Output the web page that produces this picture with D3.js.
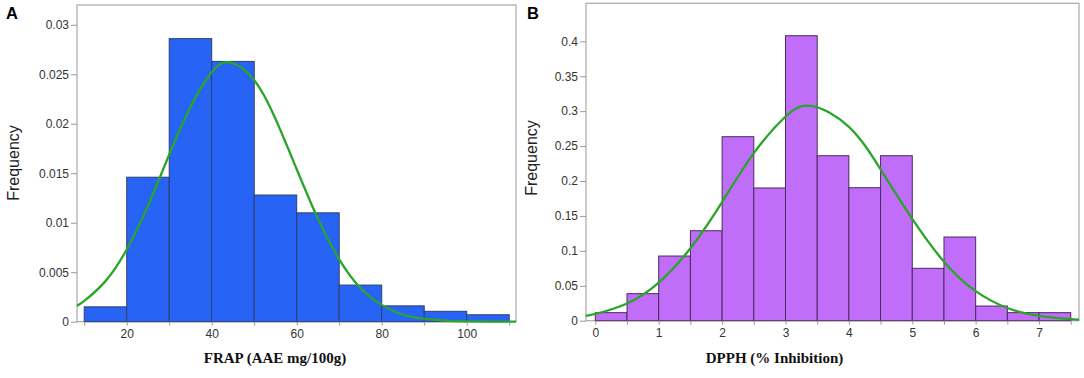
<!DOCTYPE html>
<html>
<head>
<meta charset="utf-8">
<script src="https://cdn.jsdelivr.net/npm/d3@7"></script>
<style>
  body { margin: 0; background: #fff; }
  .tick text { font-family: "Liberation Sans", Arial, sans-serif; font-size: 12px; fill: #333; }
  .tick line { stroke: #999; }
</style>
</head>
<body>
<div id="chart"></div>
<script>
// Panel A: FRAP histogram (bin edges, heights) + fitted curve
const frapBins = [10, 20, 30, 40, 50, 60, 70, 80, 90, 100, 110];
const frapFreq = [0.0015, 0.0146, 0.0286, 0.0263, 0.0128, 0.0110, 0.0037, 0.0016, 0.00105, 0.0007];
const frapCurveX = [8.3, 10, 15, 20, 25, 30, 35, 40, 44.3, 50, 55, 60, 65, 70, 75, 80, 85, 90, 95, 100, 105, 111.6];
const frapCurveY = [0.0016, 0.0021, 0.0041, 0.0073, 0.0117, 0.0169, 0.0217, 0.0252, 0.0262, 0.0244, 0.0205, 0.0154, 0.0104, 0.0063, 0.0034, 0.0017, 0.0007, 0.0003, 0.0001, 0.00003, 0.00001, 0];
const frapYTicks = [0, 0.005, 0.01, 0.015, 0.02, 0.025, 0.03];
const frapXTicks = [10, 20, 30, 40, 50, 60, 70, 80, 90, 100, 110];
const frapXLabels = [20, 40, 60, 80, 100];

// Panel B: DPPH histogram + fitted curve
const dpphBins = [0, 0.5, 1, 1.5, 2, 2.5, 3, 3.5, 4, 4.5, 5, 5.5, 6, 6.5, 7, 7.5];
const dpphFreq = [0.0115, 0.0387, 0.0926, 0.1288, 0.2634, 0.19, 0.408, 0.2362, 0.1904, 0.2362, 0.075, 0.1198, 0.021, 0.0115, 0.0115];
const dpphCurveX = [-0.15, 0, 0.5, 1, 1.5, 2, 2.5, 3, 3.41, 4, 4.5, 5, 5.5, 6, 6.5, 7, 7.5, 7.63];
const dpphCurveY = [0.0071, 0.0097, 0.0247, 0.0546, 0.1037, 0.1699, 0.2399, 0.2921, 0.3074, 0.2776, 0.2166, 0.1457, 0.0845, 0.0423, 0.0182, 0.0068, 0.0022, 0.0016];
const dpphYTicks = [0, 0.05, 0.1, 0.15, 0.2, 0.25, 0.3, 0.35, 0.4];
const dpphXTicks = [0, 0.5, 1, 1.5, 2, 2.5, 3, 3.5, 4, 4.5, 5, 5.5, 6, 6.5, 7, 7.5];
const dpphXLabels = [0, 1, 2, 3, 4, 5, 6, 7];

const svg = d3.select("#chart").append("svg")
  .attr("width", 1084)
  .attr("height", 378);

function panel(cfg) {
  const x = d3.scaleLinear().domain(cfg.xDomain).range([cfg.left, cfg.right]);
  const y = d3.scaleLinear().domain(cfg.yDomain).range([cfg.bottom, cfg.top]);
  const g = svg.append("g");

  // frame
  g.append("rect")
    .attr("x", cfg.left).attr("y", cfg.top)
    .attr("width", cfg.right - cfg.left).attr("height", cfg.bottom - cfg.top)
    .attr("fill", "none").attr("stroke", "#a9a9a9").attr("stroke-width", 1.2);

  // bars
  g.selectAll("rect.bar")
    .data(cfg.freq)
    .enter()
    .append("rect")
    .attr("class", "bar")
    .attr("x", (d, i) => x(cfg.bins[i]))
    .attr("y", d => y(d))
    .attr("width", (d, i) => x(cfg.bins[i + 1]) - x(cfg.bins[i]))
    .attr("height", d => y(0) - y(d))
    .attr("fill", cfg.fill)
    .attr("stroke", cfg.stroke)
    .attr("stroke-width", 1);

  // fitted curve
  const pts = cfg.curveX.map((v, i) => [v, cfg.curveY[i]]);
  g.append("path")
    .datum(pts)
    .attr("fill", "none")
    .attr("stroke", "#2aa52a")
    .attr("stroke-width", 2.3)
    .attr("d", d3.line().x(d => x(d[0])).y(d => y(d[1])).curve(d3.curveNatural));

  // axes
  const yAxis = g.append("g")
    .attr("transform", `translate(${cfg.left},0)`)
    .call(d3.axisLeft(y).tickValues(cfg.yTicks).tickSize(6).tickPadding(2).tickSizeOuter(0)
      .tickFormat(d => d === 0 ? "0" : String(+d.toFixed(3))));
  yAxis.select(".domain").remove();

  const xAxis = g.append("g")
    .attr("transform", `translate(0,${cfg.bottom})`)
    .call(d3.axisBottom(x).tickValues(cfg.xTicks).tickSize(4).tickPadding(4).tickSizeOuter(0)
      .tickFormat(d => cfg.xLabels.includes(d) ? String(d) : ""));
  xAxis.select(".domain").remove();

  // axis titles
  g.append("text")
    .attr("x", cfg.titleX).attr("y", 363)
    .attr("text-anchor", "middle")
    .style("font-family", "'Liberation Serif', 'Times New Roman', serif")
    .style("font-weight", "bold")
    .style("font-size", "15px")
    .attr("fill", "#111")
    .text(cfg.title);

  g.append("text")
    .attr("transform", `translate(${cfg.yLabelX},${cfg.yLabelY}) rotate(-90)`)
    .attr("text-anchor", "middle")
    .attr("dy", "0.35em")
    .style("font-family", "'Liberation Sans', Arial, sans-serif")
    .style("font-size", "16px")
    .attr("fill", "#222")
    .text("Frequency");

  g.append("text")
    .attr("x", cfg.letterX).attr("y", 19)
    .style("font-family", "'Liberation Sans', Arial, sans-serif")
    .style("font-weight", "bold")
    .style("font-size", "16.5px")
    .attr("fill", "#000")
    .text(cfg.letter);
}

panel({
  bins: frapBins, freq: frapFreq, curveX: frapCurveX, curveY: frapCurveY,
  yTicks: frapYTicks, xTicks: frapXTicks, xLabels: frapXLabels,
  xDomain: [8.3, 111.6], yDomain: [0, 0.032],
  left: 77, right: 516, top: 5, bottom: 321.7,
  fill: "#2764f6", stroke: "#2f3f6e",
  title: "FRAP (AAE mg/100g)", titleX: 275,
  yLabelX: 13, yLabelY: 163, letter: "A", letterX: 6
});

panel({
  bins: dpphBins, freq: dpphFreq, curveX: dpphCurveX, curveY: dpphCurveY,
  yTicks: dpphYTicks, xTicks: dpphXTicks, xLabels: dpphXLabels,
  xDomain: [-0.147, 7.63], yDomain: [0, 0.4544],
  left: 586, right: 1079, top: 3.3, bottom: 320.7,
  fill: "#c06efa", stroke: "#4b2a5e",
  title: "DPPH (% Inhibition)", titleX: 774.5,
  yLabelX: 531, yLabelY: 158, letter: "B", letterX: 527
});
</script>
</body>
</html>
